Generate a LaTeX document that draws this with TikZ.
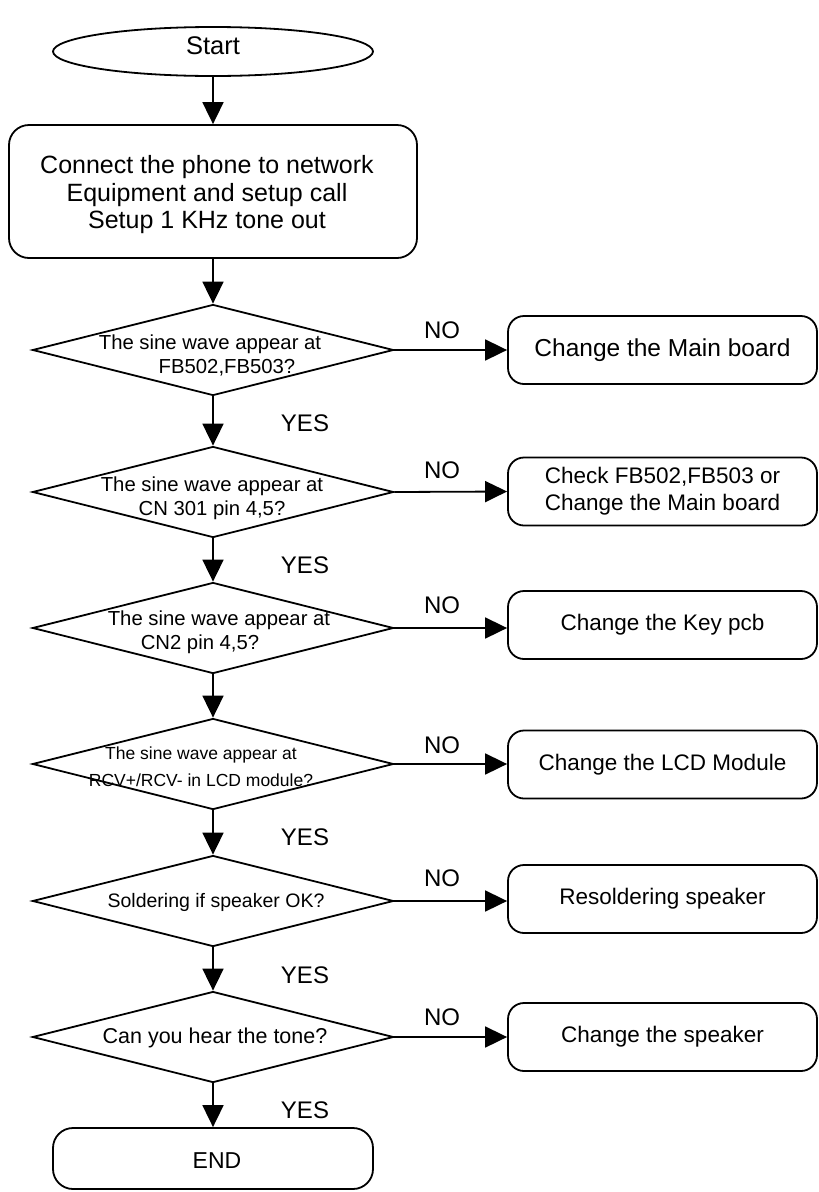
\documentclass[tikz,border=0pt]{standalone}
\usepackage{fontspec}
\setmainfont{Liberation Sans}
\usetikzlibrary{shapes.geometric,arrows.meta}
\begin{document}
\begin{tikzpicture}[x=1pt,y=-1pt,
  line width=1.8pt,
  every node/.style={inner sep=0pt},
  flow/.style={-{Triangle[length=22pt,width=21pt]}},
  startshape/.style={draw,ellipse,minimum width=320pt,minimum height=49pt},
  procbox/.style={draw,rectangle,rounded corners=20pt},
  actbox/.style={draw,rectangle,rounded corners=16pt,minimum width=309pt,minimum height=68pt,
                 font=\fontsize{22.5}{27}\selectfont,align=center},
  decision/.style={draw,diamond,minimum width=361pt,minimum height=91pt},
  dtext/.style={font=\fontsize{20.3}{24}\selectfont,align=center},
  branch/.style={font=\fontsize{24}{28}\selectfont}
]
\useasboundingbox (0,0) rectangle (819,1192);

% start and set-up step
\node[startshape] (start) at (213,51.5) {};
\node[font=\fontsize{25.5}{30}\selectfont] (starttxt) at (213,46) {Start};
\node[procbox,minimum width=408pt,minimum height=133pt] (setup) at (213,191.5) {};
\node[font=\fontsize{25}{27.5}\selectfont,align=center] (setuptxt) at (207,195)
  {Connect the phone to network\\Equipment and setup call\\Setup 1 KHz tone out};

% decisions
\node[decision] (d1) at (213,350) {};
\node[decision] (d2) at (213,492) {};
\node[decision] (d3) at (213,628) {};
\node[decision] (d4) at (213,764) {};
\node[decision] (d5) at (213,901) {};
\node[decision] (d6) at (213,1037) {};

\node[dtext] (t1) at (210,355) {The sine wave appear at\\\hspace*{34pt}FB502,FB503?};
\node[dtext] (t2) at (212,498) {The sine wave appear at\\CN 301 pin 4,5?};
\node[dtext] (t3) at (219,632) {The sine wave appear at\\CN2 pin 4,5?\hspace*{38pt}};
\node[dtext,font=\fontsize{17.5}{27}\selectfont] (t4) at (201,767)
  {The sine wave appear at\\RCV+/RCV- in LCD module?};
\node[dtext,font=\fontsize{19.5}{24}\selectfont] (t5) at (216,902) {Soldering if speaker OK?};
\node[dtext,font=\fontsize{21.5}{24}\selectfont] (t6) at (215,1038) {Can you hear the tone?};

% repair actions
\node[actbox,font=\fontsize{24.5}{27}\selectfont] (a1) at (662.5,350) {Change the Main board};
\node[actbox] (a2) at (662.5,491.5) {Check FB502,FB503 or\\Change the Main board};
\node[actbox] (a3) at (662.5,625) {Change the Key pcb};
\node[actbox] (a4) at (662.5,764.5) {Change the LCD Module};
\node[actbox] (a5) at (662.5,899) {Resoldering speaker};
\node[actbox] (a6) at (662.5,1037) {Change the speaker};

% end
\node[procbox,minimum width=320pt,minimum height=61pt] (finish) at (213,1158.5) {};
\node[font=\fontsize{23}{27}\selectfont] (finishtxt) at (217,1161) {END};

% main flow
\draw[flow] (start.south) -- (setup.north);
\draw[flow] (setup.south) -- (d1.north);
\draw[flow] (d1.south) -- (d2.north);
\draw[flow] (d2.south) -- (d3.north);
\draw[flow] (d3.south) -- (d4.north);
\draw[flow] (d4.south) -- (d5.north);
\draw[flow] (d5.south) -- (d6.north);
\draw[flow] (d6.south) -- (finish.north);

% NO branches
\draw[flow] (d1.east) -- (a1.west);
\draw[flow] (d2.east) -- (a2.west);
\draw[flow] (d3.east) -- (a3.west |- d3.east);
\draw[flow] (d4.east) -- (a4.west |- d4.east);
\draw[flow] (d5.east) -- (a5.west |- d5.east);
\draw[flow] (d6.east) -- (a6.west);

% branch labels
\node[branch] (no1) at (442,330) {NO};
\node[branch] (no2) at (442,470) {NO};
\node[branch] (no3) at (442,605) {NO};
\node[branch] (no4) at (442,745) {NO};
\node[branch] (no5) at (442,878) {NO};
\node[branch] (no6) at (442,1017) {NO};

\node[branch] (yes1) at (305,423) {YES};
\node[branch] (yes2) at (305,565) {YES};
\node[branch] (yes4) at (305,837) {YES};
\node[branch] (yes5) at (305,975) {YES};
\node[branch] (yes6) at (305,1110) {YES};
\end{tikzpicture}
\end{document}
